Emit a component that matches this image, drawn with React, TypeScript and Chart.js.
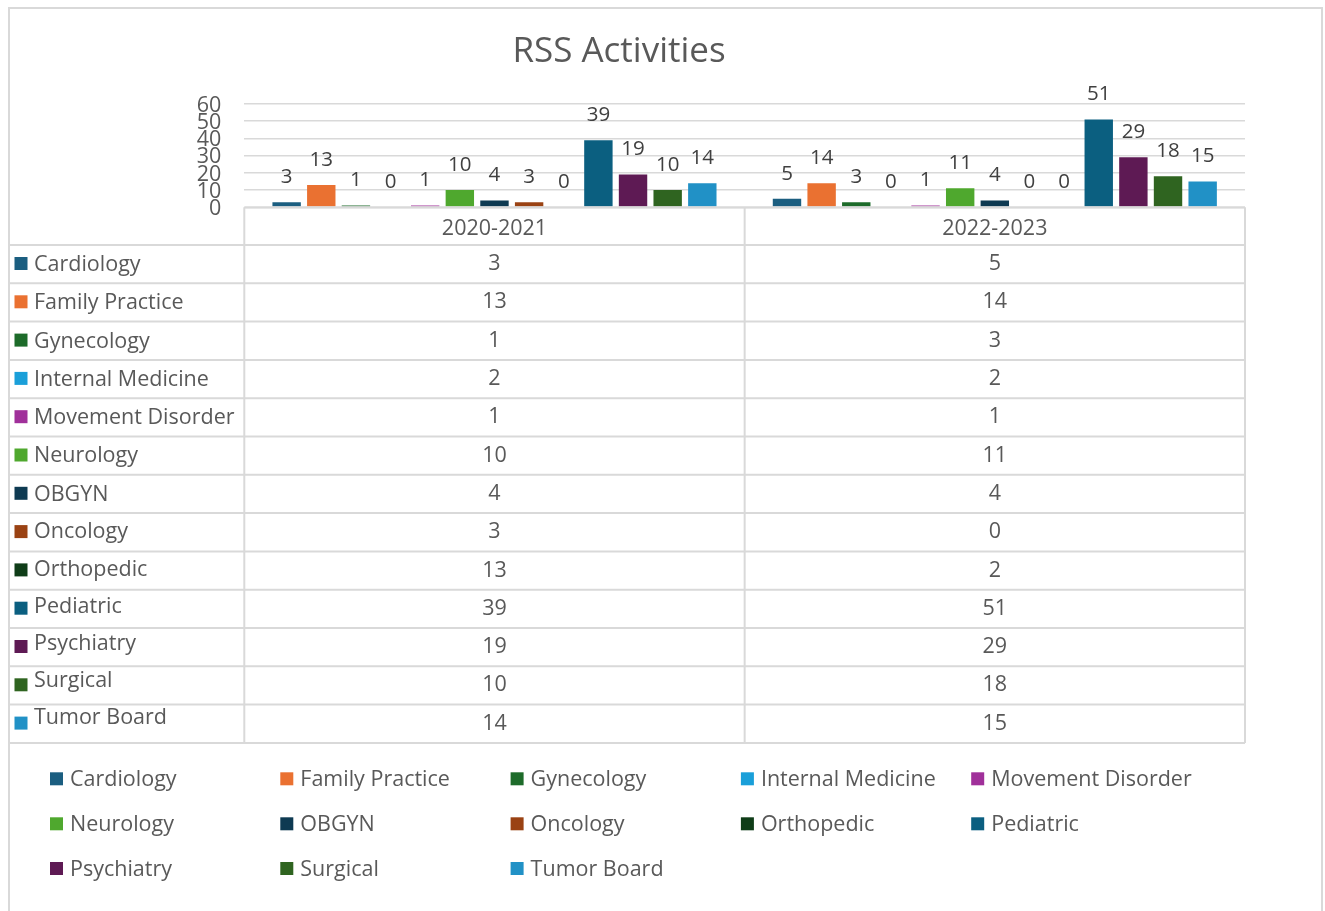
import { useEffect, useRef } from "react";
import { Chart, registerables } from "chart.js";

Chart.register(...registerables);

// ---------- data ----------
const TITLE = "RSS Activities";
const CATEGORIES = ["2020-2021", "2022-2023"];
const SERIES = [
  "Cardiology",
  "Family Practice",
  "Gynecology",
  "Internal Medicine",
  "Movement Disorder",
  "Neurology",
  "OBGYN",
  "Oncology",
  "Orthopedic",
  "Pediatric",
  "Psychiatry",
  "Surgical",
  "Tumor Board",
];
// values drawn as bars (and their data labels)
const BARS_2020_2021 = [3, 13, 1, 0, 1, 10, 4, 3, 0, 39, 19, 10, 14];
const BARS_2022_2023 = [5, 14, 3, 0, 1, 11, 4, 0, 0, 51, 29, 18, 15];
// values printed in the data table under the chart
const TABLE_2020_2021 = [3, 13, 1, 2, 1, 10, 4, 3, 13, 39, 19, 10, 14];
const TABLE_2022_2023 = [5, 14, 3, 2, 1, 11, 4, 0, 2, 51, 29, 18, 15];
const Y_MIN = 0;
const Y_MAX = 60;
const Y_STEP = 10;

// ---------- style ----------
const COLORS = [
  "#1b5e80",
  "#ea7131",
  "#1d6b2a",
  "#1a9fd9",
  "#a0309a",
  "#4fa82e",
  "#0e3a52",
  "#9a4213",
  "#0f3d18",
  "#0b5f80",
  "#5e1a54",
  "#2f6420",
  "#2191c6",
];
const W = 1317;
const H = 904;
const FONT = "'Open Sans', 'Noto Sans', sans-serif";
const TEXT = "#595959";
const LABEL = "#404040";
const LINE = "#d9d9d9";
const CAP = 0.357; // half cap-height of Open Sans, in em
const AREA_LEFT = 236.3;
const AREA_RIGHT = 1237;
const AREA_TOP = 97;
const AREA_BOTTOM = 200.3;
const ROWS_TOP = 238;
const ROW_H = 38.3;
const LABEL_Y_IN_ROW = [18.3, 18.3, 18.3, 18.3, 18.3, 18.3, 18.5, 17.7, 17.1, 15.8, 14.5, 13.2, 12.2];
const SMALL = 21.5;

function capText(ctx: CanvasRenderingContext2D, s: string, x: number, capCenter: number, size: number) {
  ctx.textBaseline = "alphabetic";
  ctx.fillText(s, x, capCenter + CAP * size);
}

const decorPlugin = {
  id: "decor",
  afterDatasetsDraw(chart: any) {
    const ctx = chart.ctx;
    ctx.save();
    const size = 20.5;
    ctx.font = `${size}px ${FONT}`;
    ctx.fillStyle = LABEL;
    ctx.textAlign = "center";
    chart.data.datasets.forEach((ds: any, di: number) => {
      const meta = chart.getDatasetMeta(di);
      meta.data.forEach((bar: any, i: number) => {
        capText(ctx, String(ds.data[i]), bar.x, bar.y - 26.5, size);
      });
    });
    ctx.restore();
  },
  afterDraw(chart: any) {
    const ctx = chart.ctx;
    const area = chart.chartArea;
    const xs = chart.scales.x;
    const ys = chart.scales.y;
    ctx.save();

    // outer border
    ctx.strokeStyle = LINE;
    ctx.lineWidth = 2;
    ctx.strokeRect(1, 1, 1313, 940);

    // title
    ctx.fillStyle = TEXT;
    ctx.font = `35px ${FONT}`;
    ctx.textAlign = "center";
    capText(ctx, TITLE, 611, 42.5, 35);

    // y tick labels from the value scale
    ctx.font = `${SMALL}px ${FONT}`;
    ctx.textAlign = "right";
    ys.ticks.forEach((t: any) => {
      capText(ctx, String(t.value), area.left - 23, ys.getPixelForValue(t.value), SMALL);
    });

    // data table
    const n = SERIES.length;
    const tableBottom = ROWS_TOP + n * ROW_H;
    const centers = CATEGORIES.map((_, i) => xs.getPixelForValue(i));
    const mid = (centers[0] + centers[1]) / 2;
    ctx.strokeStyle = LINE;
    ctx.lineWidth = 2;
    ctx.beginPath();
    ctx.moveTo(area.left, area.bottom);
    ctx.lineTo(area.right, area.bottom);
    for (let i = 0; i <= n; i++) {
      const y = ROWS_TOP + i * ROW_H;
      ctx.moveTo(1, y);
      ctx.lineTo(area.right, y);
    }
    [area.left, mid, area.right].forEach((x) => {
      ctx.moveTo(x, area.bottom);
      ctx.lineTo(x, tableBottom);
    });
    ctx.moveTo(1, ROWS_TOP);
    ctx.lineTo(1, tableBottom);
    ctx.stroke();

    ctx.fillStyle = TEXT;
    ctx.textAlign = "center";
    CATEGORIES.forEach((c, i) => capText(ctx, c, centers[i], 220.2, SMALL));
    const cols = [TABLE_2020_2021, TABLE_2022_2023];
    for (let r = 0; r < n; r++) {
      const top = ROWS_TOP + r * ROW_H;
      ctx.fillStyle = TEXT;
      ctx.textAlign = "center";
      cols.forEach((col, ci) => {
        capText(ctx, String(col[r]), centers[ci], top + 17.5, SMALL);
      });
      ctx.fillStyle = COLORS[r];
      ctx.fillRect(6.5, top + 18.5 - 6.5, 13, 13);
      ctx.fillStyle = TEXT;
      ctx.textAlign = "left";
      capText(ctx, SERIES[r], 26, top + LABEL_Y_IN_ROW[r], SMALL);
    }

    // legend
    const legendRows = [771.3, 816.3, 861];
    SERIES.forEach((s, i) => {
      const x = 42 + (i % 5) * 230.3;
      const y = legendRows[Math.floor(i / 5)];
      ctx.fillStyle = COLORS[i];
      ctx.fillRect(x, y - 6, 13, 13);
      ctx.fillStyle = TEXT;
      ctx.textAlign = "left";
      capText(ctx, s, x + 20, y, SMALL);
    });

    ctx.restore();
  },
};

export default function App() {
  const ref = useRef<HTMLCanvasElement | null>(null);

  useEffect(() => {
    document.documentElement.style.overflow = "hidden";
    document.body.style.overflow = "hidden";
    if (!ref.current) return;
    const chart = new Chart(ref.current, {
      type: "bar",
      data: {
        labels: CATEGORIES,
        datasets: SERIES.map((s, i) => ({
          label: s,
          data: [BARS_2020_2021[i], BARS_2022_2023[i]],
          backgroundColor: COLORS[i],
          borderWidth: 0,
          categoryPercentage: 0.9,
          barPercentage: 0.82,
        })),
      },
      options: {
        responsive: false,
        animation: false,
        devicePixelRatio: 1,
        layout: {
          padding: {
            left: 0,
            top: AREA_TOP,
            right: W - AREA_RIGHT,
            bottom: H - AREA_BOTTOM,
          },
        },
        plugins: {
          legend: { display: false },
          title: { display: false },
          tooltip: { enabled: false },
        },
        scales: {
          x: {
            grid: { display: false },
            border: { display: false },
            ticks: { display: false },
            afterFit: (s: any) => {
              s.height = 0;
            },
          },
          y: {
            min: Y_MIN,
            max: Y_MAX,
            grid: { color: LINE, lineWidth: 1.5, drawTicks: false },
            border: { display: false },
            ticks: {
              stepSize: Y_STEP,
              autoSkip: false,
              display: false,
            },
            afterFit: (s: any) => {
              s.width = AREA_LEFT;
            },
          },
        },
      },
      plugins: [decorPlugin],
    });
    return () => chart.destroy();
  }, []);

  return (
    <div style={{ position: "absolute", left: 8, top: 7, width: W, height: H, overflow: "hidden" }}>
      <canvas ref={ref} width={W} height={H} style={{ display: "block" }} />
    </div>
  );
}
